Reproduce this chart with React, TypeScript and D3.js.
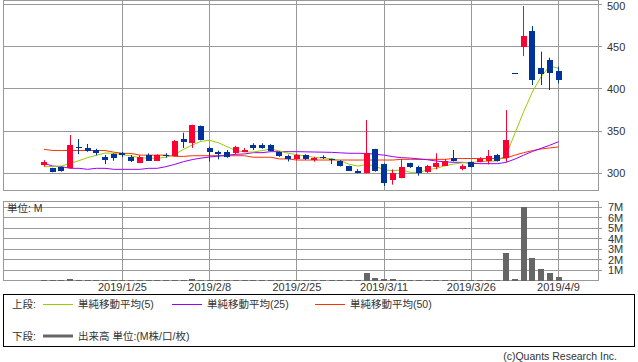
import React from "react";
import * as d3 from "d3";

const dates = [
  "2019/1/11","2019/1/15","2019/1/16","2019/1/17","2019/1/18","2019/1/21","2019/1/22","2019/1/23","2019/1/24","2019/1/25",
  "2019/1/28","2019/1/29","2019/1/30","2019/1/31","2019/2/1","2019/2/4","2019/2/5","2019/2/6","2019/2/7","2019/2/8",
  "2019/2/12","2019/2/13","2019/2/14","2019/2/15","2019/2/18","2019/2/19","2019/2/20","2019/2/21","2019/2/22","2019/2/25",
  "2019/2/26","2019/2/27","2019/2/28","2019/3/1","2019/3/4","2019/3/5","2019/3/6","2019/3/7","2019/3/8","2019/3/11",
  "2019/3/12","2019/3/13","2019/3/14","2019/3/15","2019/3/18","2019/3/19","2019/3/20","2019/3/22","2019/3/25","2019/3/26",
  "2019/3/27","2019/3/28","2019/3/29","2019/4/1","2019/4/2","2019/4/3","2019/4/4","2019/4/5","2019/4/8","2019/4/9",
];

const opens = [
  310, 306.3, 307.5, 306.3, 331, 330, 327.2, 319.7, 322.5, 323.7,
  319.7, 312.6, 321.7, 315, 322, 320.5, 340.6, 336.2, 355.6, 330,
  325.6, 325.6, 324, 325.6, 333.1, 333.8, 333.5, 325.6, 320.8, 316.9,
  321.3, 315.4, 319.5, 316.6, 314.9, 308.6, 303.1, 300.7, 328.8, 311,
  292, 294.8, 311.8, 307.9, 301.5, 307.5, 309, 317.7, 305.4, 313.4,
  313.4, 314.2, 322, 318.1, 418.7, 449, 468.4, 424.3, 434, 421,
];
const highs = [
  315.6, 306.5, 308, 345.3, 340.5, 334.7, 329, 321.7, 323.7, 325.2,
  321.7, 321.5, 323.5, 322.5, 323.7, 339.4, 348, 357.5, 356.5, 331.5,
  326.8, 327.6, 332.6, 330, 335.5, 335.5, 334.5, 326, 322, 323,
  322.5, 319.5, 321.3, 317.2, 315.5, 309, 304.9, 363, 329, 311.8,
  304.6, 316.9, 312.5, 309, 310, 323.7, 316.9, 327.6, 310.6, 314,
  319, 327.6, 323, 374.8, 418.7, 498, 474.3, 443.9, 436.8, 426.2,
];
const lows = [
  308, 301.2, 302, 305.5, 322.7, 325.5, 321.3, 310.8, 314.9, 319,
  313.4, 312, 314.5, 314.5, 318.5, 320, 330, 330, 339, 313.8,
  316.6, 318.5, 322.6, 325, 327.6, 329, 326, 319.5, 314, 315.5,
  315.8, 313.7, 317, 311, 308, 302.7, 300, 299.8, 302, 285,
  286.6, 294, 306.5, 297.2, 300.5, 304.7, 308.5, 314, 303.5, 307,
  313, 310.6, 314, 313.4, 418.7, 438.7, 404.5, 404.5, 398.6, 406.5,
];
const closes = [
  313.7, 302, 303, 333.5, 331, 326, 324, 315.8, 318.5, 321.3,
  314.6, 319.7, 315, 321.7, 320.1, 338.6, 337, 357.2, 339.4, 325.2,
  322.8, 319.3, 331.5, 327.6, 330.3, 329.9, 326.4, 320.5, 316.9, 322,
  317.3, 318.1, 318.5, 315.6, 309, 302.7, 300, 323.7, 302.7, 288.9,
  300.7, 307.9, 307.1, 300.7, 308.6, 312.5, 314.9, 314.9, 308.6, 307.8,
  317.3, 320.8, 314.9, 339.4, 418.7, 462.4, 410.4, 417.5, 419, 410.4,
];

const ma5 = [
  307.8, 308, 308.6, 311.8, 314.9, 318.5, 321.3, 324, 323.7, 322,
  320.6, 318.5, 317.8, 317.8, 319, 322.2, 328.4, 333.5, 337.8, 339,
  336.2, 331.5, 326.8, 325.2, 325.2, 326.8, 328.8, 326.4, 323.7, 322,
  320.5, 318.9, 318.1, 317.3, 315, 310.7, 308.5, 310.5, 308.5, 304,
  303.1, 304, 301.2, 301.2, 304, 305.9, 309, 311, 312.5, 313,
  313.8, 314.2, 314.6, 321.7, 347.3, 372.9, 396, 414.3, 427, 424.3,
];
const ma25 = [
  311.8, 308.6, 307.8, 305.9, 305.9, 304.7, 305.9, 305.9, 304.7, 304.7,
  304.7, 304.7, 305.9, 305.9, 307.9, 310.6, 313.8, 316.2, 318, 319.3,
  320.3, 321.3, 322.5, 322.9, 324.4, 324.4, 325.6, 325.6, 325.6, 325.6,
  325.4, 325.2, 325, 324.8, 324.2, 323.7, 323.7, 323.5, 322.5, 321.5,
  319.7, 318.5, 318, 317, 316, 314.5, 313.5, 313, 313, 311.8,
  311.4, 311.4, 311.4, 313, 316.8, 321.5, 325.8, 329.5, 333.2, 337.4,
];
const ma50 = [
  328.4, 327, 327, 327, 327, 327, 327, 327, 325, 323.7,
  323.5, 321.5, 321.5, 321.5, 321.5, 320, 320, 320.8, 320.8, 320.8,
  320.8, 320.8, 320.8, 320.8, 319, 319, 319, 317, 317, 315.7,
  315.7, 315.7, 315.7, 315.7, 315.7, 315.7, 315.7, 315.7, 315.7, 315.7,
  315.7, 316.5, 316.5, 316.5, 316.5, 316.5, 316.5, 317.5, 317.5, 317.5,
  317.5, 317.5, 317.5, 318, 321.5, 324.4, 326.8, 328.8, 330, 331.2,
];

const volumes = [
  0.08, 0.06, 0.06, 0.2, 0.1, 0.08, 0.06, 0.06, 0.05, 0.05,
  0.05, 0.05, 0.05, 0.05, 0.05, 0.08, 0.08, 0.15, 0.1, 0.08,
  0.05, 0.05, 0.05, 0.05, 0.05, 0.05, 0.05, 0.05, 0.05, 0.05,
  0.05, 0.05, 0.05, 0.05, 0.05, 0.05, 0.05, 0.76, 0.3, 0.17,
  0.17, 0.05, 0.05, 0.05, 0.05, 0.05, 0.05, 0.05, 0.05, 0.05,
  0.05, 0.05, 0.05, 2.67, 0.15, 7.0, 2.2, 1.14, 0.76, 0.4,
];

const dateTicks = ["2019/1/25", "2019/2/8", "2019/2/25", "2019/3/11", "2019/3/26", "2019/4/9"];
const priceTicks = [300, 350, 400, 450, 500];
const volumeTicks = [1, 2, 3, 4, 5, 6, 7];
const volumeTickLabels = ["1M", "2M", "3M", "4M", "5M", "6M", "7M"];

const legendTop = [
  { label: "単純移動平均(5)", color: "#99cc00" },
  { label: "単純移動平均(25)", color: "#9900ff" },
  { label: "単純移動平均(50)", color: "#ff3300" },
];

const FONT = "'Liberation Sans', 'Noto Sans CJK JP', sans-serif";
const GRID = "#999999";
const UP = "#ff0033";
const DOWN = "#003399";

export default function App() {
  const L = 3.5, R = 598.5;
  const pTop = 0.5, pBot = 190.5;
  const vTop = 201.5, vBot = 280.5;

  const x = d3.scalePoint<string>().domain(dates).range([44, 558.5]).padding(0);
  const y = d3.scaleLinear().domain([300, 500]).range([173.3, 4.3]);
  const yv = d3.scaleLinear().domain([0, 7]).range([280.8, 207.3]);

  const crisp = (v: number) => Math.floor(v) + 0.5;

  const line = (arr: number[]) =>
    d3.line<number>()
      .x((_, i) => x(dates[i]) as number)
      .y((d) => y(d))(arr) as string;

  return (
    <svg width={638} height={362} style={{ position: "absolute", left: 0, top: 0, background: "#fff" }}
      fontFamily={FONT}>
      <rect x={0} y={0} width={638} height={362} fill="#fff" />
      {/* ===== price panel ===== */}
      {priceTicks.map((t) => (
        <line key={"pg" + t} x1={L} x2={602} y1={crisp(y(t))} y2={crisp(y(t))} stroke={GRID} strokeWidth={1} />
      ))}
      {dateTicks.map((d) => (
        <line key={"pv" + d} x1={crisp(x(d) as number)} x2={crisp(x(d) as number)} y1={pTop} y2={pBot} stroke={GRID} />
      ))}
      <rect x={L} y={pTop} width={R - L} height={pBot - pTop} fill="none" stroke={GRID} />
      {priceTicks.map((t) => (
        <text key={"pl" + t} x={607} y={Math.max(y(t), 5.5)} dominantBaseline="central" fontSize={11} fill="#333">{t}</text>
      ))}

      {/* moving averages */}
      <path d={line(ma50)} fill="none" stroke="#ff3300" strokeWidth={1} />
      <path d={line(ma25)} fill="none" stroke="#9900ff" strokeWidth={1} />
      <path d={line(ma5)} fill="none" stroke="#99cc00" strokeWidth={1} />

      {/* candles */}
      {dates.map((d, i) => {
        const cx = x(d) as number;
        const o = opens[i], c = closes[i];
        const col = c > o ? UP : DOWN;
        const top = y(Math.max(o, c));
        const bot = y(Math.min(o, c));
        const bt = Math.round(top);
        const bh = Math.max(1, Math.round(bot) - bt);
        return (
          <g key={"c" + i}>
            <rect x={Math.floor(cx)} y={y(highs[i])} width={1} height={Math.max(0, y(lows[i]) - y(highs[i]))} fill={col} />
            <rect x={Math.round(cx - 3)} y={bt} width={6} height={bh} fill={col} />
          </g>
        );
      })}

      {/* ===== volume panel ===== */}
      {volumeTicks.map((t) => (
        <line key={"vg" + t} x1={L} x2={602} y1={crisp(yv(t))} y2={crisp(yv(t))} stroke={GRID} />
      ))}
      {dateTicks.map((d) => (
        <line key={"vv" + d} x1={crisp(x(d) as number)} x2={crisp(x(d) as number)} y1={vTop} y2={vBot} stroke={GRID} />
      ))}
      <rect x={L} y={vTop} width={R - L} height={vBot - vTop} fill="none" stroke={GRID} />
      {volumeTicks.map((t, i) => (
        <text key={"vl" + t} x={608} y={yv(t)} dominantBaseline="central" fontSize={11} fill="#333">{volumeTickLabels[i]}</text>
      ))}
      <text x={7} y={212} fontSize={10.5} fill="#333">単位: M</text>
      {dates.map((d, i) => {
        const cx = x(d) as number;
        const t = Math.min(Math.round(yv(volumes[i])), 280);
        return <rect key={"v" + i} x={Math.round(cx - 3)} y={t} width={6} height={281 - t} fill="#666666" />;
      })}

      {/* date labels */}
      {dateTicks.map((d) => (
        <text key={"dl" + d} x={x(d) as number} y={291} textAnchor="middle" fontSize={11} fill="#333">{d}</text>
      ))}

      {/* ===== legend ===== */}
      <rect x={3.5} y={294.5} width={631} height={52} fill="#fff" stroke="#000" />
      <text x={12} y={308} fontSize={10.5} fill="#333">上段:</text>
      {legendTop.map((l, i) => {
        const lx = [43, 172, 315][i];
        return (
          <g key={"lg" + i}>
            <line x1={lx} x2={lx + 30} y1={304.5} y2={304.5} stroke={l.color} strokeWidth={1} />
            <text x={lx + 35} y={308} fontSize={10.5} fill="#333">{l.label}</text>
          </g>
        );
      })}
      <text x={12} y={340} fontSize={10.5} fill="#333">下段:</text>
      <line x1={43} x2={73} y1={336} y2={336} stroke="#666666" strokeWidth={3} />
      <text x={78} y={340} fontSize={10.5} fill="#333">出来高 単位:(M株/口/枚)</text>

      <text x={617} y={360} textAnchor="end" fontSize={10.5} fill="#333">(c)Quants Research Inc.</text>
    </svg>
  );
}
